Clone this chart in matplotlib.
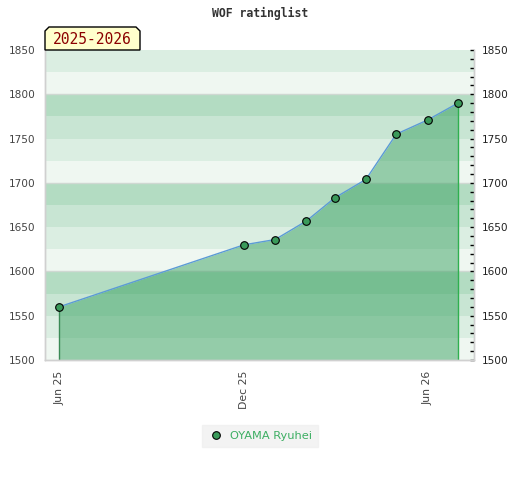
import matplotlib
matplotlib.use("Agg")
import matplotlib.pyplot as plt
import matplotlib.dates as mdates
from matplotlib.patches import Polygon
import datetime as dt

# ---- data ----
dates = ["2025-06-01", "2025-12-01", "2026-01-01", "2026-02-01", "2026-03-01",
         "2026-04-01", "2026-05-01", "2026-06-01", "2026-07-01"]
ratings = [1560, 1630, 1636, 1657, 1683, 1704, 1755, 1771, 1790]
player = "OYAMA Ryuhei"
title = "WOF ratinglist"
season = "2025-2026"
xtick_dates = ["2025-06-01", "2025-12-01", "2026-06-01"]
y_min, y_max = 1500, 1850

x = [dt.datetime.strptime(d, "%Y-%m-%d") for d in dates]
xt = [dt.datetime.strptime(d, "%Y-%m-%d") for d in xtick_dates]

fig = plt.figure(figsize=(5.2, 4.8), dpi=100)
ax = fig.add_axes([45/520, 1-360/480, (474-45)/520, (360-50)/480])

# background bands (25-point stripes, repeating every 100)
band_cols = ["#eff7f1", "#dbeee2", "#c8e5d3", "#b3dcc2"]
v = y_min
i = 0
while v < y_max:
    ax.axhspan(v, v + 25, color=band_cols[i % 4], lw=0, zorder=0)
    v += 25
    i += 1
for g in range(y_min + 100, y_max, 100):
    ax.axhline(g, color="#cfd8d2", lw=1, zorder=0.5)

ax.fill_between(x, ratings, y_min, color="#3aa262", alpha=0.5, lw=0, zorder=1)
ax.plot(x, ratings, color="#5b9bd5", lw=1, zorder=3)
ax.vlines(x[0], y_min, ratings[0], color="#3a8a55", lw=1, zorder=2)
ax.vlines(x[-1], y_min, ratings[-1], color="#2fb04f", lw=1, zorder=2)
ax.plot(x, ratings, ls="none", marker="o", ms=5.5, mfc="#3a9a5a", mec="black",
        mew=0.8, zorder=4, label=player)

ax.set_ylim(y_min, y_max)
ax.set_xlim(dt.datetime(2025, 5, 18), dt.datetime(2026, 7, 17))
ax.set_xticks(xt)
ax.xaxis.set_major_formatter(mdates.DateFormatter("%b %y"))
ax.tick_params(axis="x", length=0, pad=8, labelsize=7.8, labelrotation=90,
               labelcolor="#444444")
ax.set_yticks(range(y_min, y_max + 1, 50))
ax.tick_params(axis="y", length=0, pad=7, labelsize=7.6, labelcolor="#444444")

ax2 = ax.twinx()
ax2.set_ylim(y_min, y_max)
ax2.set_yticks(range(y_min, y_max + 1, 50))
ax2.set_yticks(range(y_min, y_max + 1, 10), minor=True)
ax2.tick_params(axis="y", which="both", direction="in", length=3, width=1,
                color="black", pad=5.5, labelsize=7.6, labelcolor="#222222")

for a in (ax, ax2):
    for s in a.spines.values():
        s.set_color("#d0d0d0")
        s.set_linewidth(1)
    a.spines["top"].set_visible(False)

fig.text(0.5, 1 - 13/480, title, ha="center", va="center",
         family="DejaVu Sans Mono", weight="bold", fontsize=8.3, color="#333333")

# season label box
L, R, T, B, c = 45/520, 140/520, 1-27/480, 1-50/480, 4/520
cy = 4/480
box = Polygon([(L, B), (L, T - cy), (L + c, T), (R - c, T), (R, T - cy), (R, B)],
              closed=True, transform=fig.transFigure, facecolor="#ffffcc",
              edgecolor="black", lw=1, zorder=5)
fig.patches.append(box)
fig.text((L + R) / 2, (T + B) / 2 - 1/480, season, ha="center", va="center",
         family="DejaVu Sans Mono", fontsize=10.5, color="#8b0000", zorder=6)

leg = fig.legend(loc="center", bbox_to_anchor=(260/520, 1 - 436/480),
                 frameon=True, fontsize=8.2, labelcolor="#3cae62",
                 handletextpad=0.5, borderpad=0.55, handlelength=1.4,
                 fancybox=False, markerscale=1.0)
leg.get_frame().set_facecolor("#f0f0f0")
leg.get_frame().set_edgecolor("#f0f0f0")

fig.savefig("out.png", dpi=100)
